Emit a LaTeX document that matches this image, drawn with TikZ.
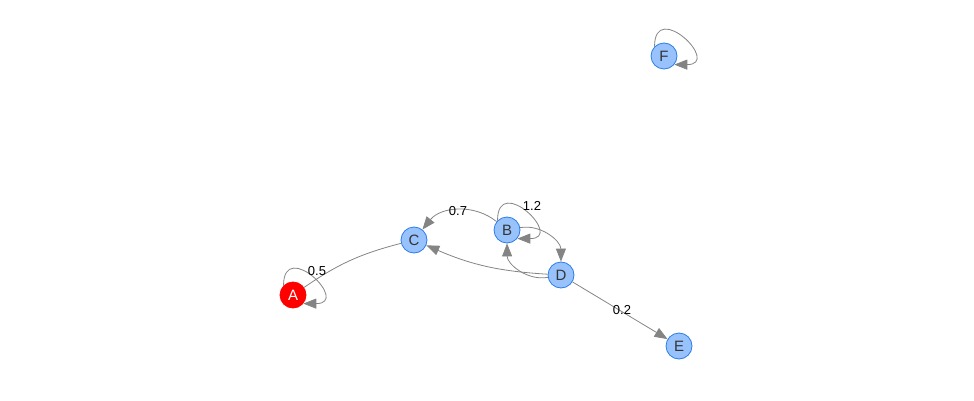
\documentclass[tikz,border=0pt]{standalone}
\usepackage{fontspec}
\setmainfont{Liberation Sans}
\usetikzlibrary{arrows.meta}
\definecolor{nodefill}{RGB}{151,194,252}
\definecolor{nodeline}{RGB}{43,124,233}
\definecolor{edgegray}{RGB}{132,132,132}
\definecolor{nodetext}{RGB}{52,52,52}
\tikzset{
  vertex/.style={circle, draw=nodeline, fill=nodefill, line width=0.8pt,
    minimum size=26pt, inner sep=0pt, font=\fontsize{15}{15}\selectfont, text=nodetext},
  root/.style={vertex, draw=red, fill=red, text=white},
  edge/.style={draw=edgegray, line width=0.8pt,
    -{Triangle[length=13pt,width=10pt]}},
  plain/.style={draw=edgegray, line width=0.8pt},
  selfloop/.style={edge, out=90, in=0, distance=48pt},
  weight/.style={font=\fontsize{13}{13}\selectfont, text=black, inner sep=1pt}
}
\begin{document}
\begin{tikzpicture}[x=1pt,y=-1pt]
\useasboundingbox (0,0) rectangle (974,401);
% Draw nodes
\node[root]   (A) at (293,295) {A};
\node[vertex] (C) at (414,240) {C};
\node[vertex] (B) at (507,230) {B};
\node[vertex] (D) at (561,275) {D};
\node[vertex] (E) at (679,346) {E};
\node[vertex] (F) at (664,56)  {F};
% Draw edges
\draw[plain] (A) to[bend left=10] (C);
\draw[edge] (B) to[bend right=45] (C);
\draw[edge] (D) to[bend left=10] (C);
\draw[edge] (B) to[bend left=50] (D);
\draw[edge] (D) to[bend left=50] (B);
\draw[edge] (D) -- (E);
% Draw self loops
\draw[selfloop] (A.135) to (A.-40);
\draw[selfloop] (B.135) to (B.-40);
\draw[selfloop] (F.135) to (F.-40);
% Weights
\node[weight] (wA) at (317,271) {0.5};
\node[weight] (wB) at (458,211) {0.7};
\node[weight] (wC) at (532,206) {1.2};
\node[weight] (wD) at (622,310) {0.2};
\end{tikzpicture}
\end{document}
